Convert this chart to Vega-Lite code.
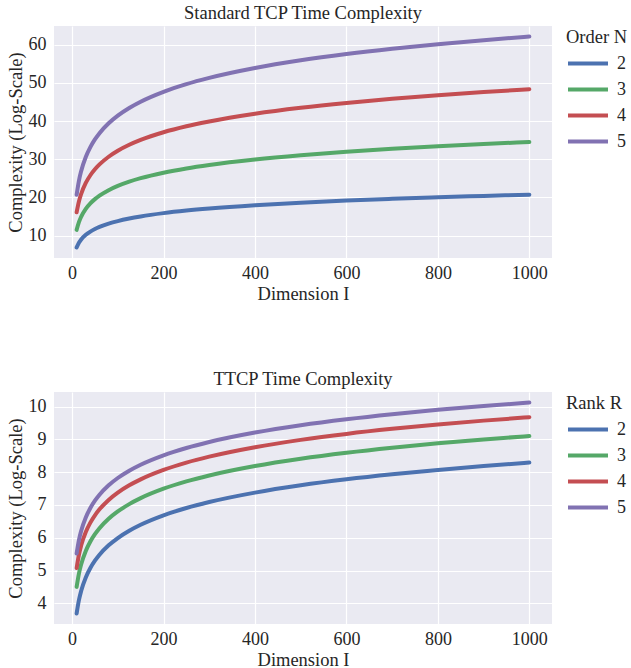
{
  "$schema": "https://vega.github.io/schema/vega-lite/v6.json",
  "padding": {"left": 6, "top": 3, "right": 0, "bottom": 0},
  "background": "white",
  "spacing": 66,
  "config": {
    "font": "Liberation Serif",
    "view": {"fill": "#EAEAF2", "stroke": null},
    "axis": {
      "domain": false, "ticks": false, "grid": true, "gridColor": "white", "gridWidth": 1.2,
      "labelFont": "Liberation Serif", "labelFontSize": 18, "labelColor": "#262626", "labelPadding": 8,
      "titleFont": "Liberation Serif", "titleFontSize": 18.5, "titleColor": "#262626", "titleFontWeight": "normal", "titlePadding": 3
    },
    "axisX": {"labelPadding": 6, "titlePadding": 2},
    "title": {"font": "Liberation Serif", "fontSize": 18.5, "fontWeight": "normal", "color": "#262626", "offset": 4},
    "legend": {
      "orient": "right", "offset": 12, "padding": 2,
      "titleFont": "Liberation Serif", "titleFontSize": 18.5, "titleFontWeight": "normal", "titleColor": "#262626", "titlePadding": 5,
      "labelFont": "Liberation Serif", "labelFontSize": 18, "labelColor": "#262626",
      "symbolType": "M-1,0H3", "symbolSize": 400, "symbolStrokeWidth": 4, "labelOffset": 27, "rowPadding": 5
    }
  },
  "datasets": {
    "tcp": [
      {"I":10,"y":6.908,"N":2},{"I":15,"y":8.124,"N":2},{"I":20,"y":8.987,"N":2},{"I":30,"y":10.204,"N":2},{"I":40,"y":11.067,"N":2},{"I":50,"y":11.736,"N":2},{"I":60,"y":12.283,"N":2},{"I":80,"y":13.146,"N":2},{"I":100,"y":13.816,"N":2},{"I":125,"y":14.485,"N":2},{"I":150,"y":15.032,"N":2},{"I":200,"y":15.895,"N":2},{"I":250,"y":16.564,"N":2},{"I":300,"y":17.111,"N":2},{"I":400,"y":17.974,"N":2},{"I":500,"y":18.644,"N":2},{"I":600,"y":19.191,"N":2},{"I":700,"y":19.653,"N":2},{"I":800,"y":20.054,"N":2},{"I":900,"y":20.407,"N":2},{"I":1000,"y":20.723,"N":2},
      {"I":10,"y":11.513,"N":3},{"I":15,"y":13.540,"N":3},{"I":20,"y":14.979,"N":3},{"I":30,"y":17.006,"N":3},{"I":40,"y":18.444,"N":3},{"I":50,"y":19.560,"N":3},{"I":60,"y":20.472,"N":3},{"I":80,"y":21.910,"N":3},{"I":100,"y":23.026,"N":3},{"I":125,"y":24.142,"N":3},{"I":150,"y":25.053,"N":3},{"I":200,"y":26.492,"N":3},{"I":250,"y":27.607,"N":3},{"I":300,"y":28.519,"N":3},{"I":400,"y":29.957,"N":3},{"I":500,"y":31.073,"N":3},{"I":600,"y":31.985,"N":3},{"I":700,"y":32.755,"N":3},{"I":800,"y":33.423,"N":3},{"I":900,"y":34.012,"N":3},{"I":1000,"y":34.539,"N":3},
      {"I":10,"y":16.118,"N":4},{"I":15,"y":18.956,"N":4},{"I":20,"y":20.970,"N":4},{"I":30,"y":23.808,"N":4},{"I":40,"y":25.822,"N":4},{"I":50,"y":27.384,"N":4},{"I":60,"y":28.660,"N":4},{"I":80,"y":30.674,"N":4},{"I":100,"y":32.236,"N":4},{"I":125,"y":33.798,"N":4},{"I":150,"y":35.074,"N":4},{"I":200,"y":37.088,"N":4},{"I":250,"y":38.650,"N":4},{"I":300,"y":39.926,"N":4},{"I":400,"y":41.940,"N":4},{"I":500,"y":43.502,"N":4},{"I":600,"y":44.779,"N":4},{"I":700,"y":45.858,"N":4},{"I":800,"y":46.792,"N":4},{"I":900,"y":47.617,"N":4},{"I":1000,"y":48.354,"N":4},
      {"I":10,"y":20.723,"N":5},{"I":15,"y":24.372,"N":5},{"I":20,"y":26.962,"N":5},{"I":30,"y":30.611,"N":5},{"I":40,"y":33.200,"N":5},{"I":50,"y":35.208,"N":5},{"I":60,"y":36.849,"N":5},{"I":80,"y":39.438,"N":5},{"I":100,"y":41.447,"N":5},{"I":125,"y":43.455,"N":5},{"I":150,"y":45.096,"N":5},{"I":200,"y":47.685,"N":5},{"I":250,"y":49.693,"N":5},{"I":300,"y":51.334,"N":5},{"I":400,"y":53.923,"N":5},{"I":500,"y":55.931,"N":5},{"I":600,"y":57.572,"N":5},{"I":700,"y":58.960,"N":5},{"I":800,"y":60.162,"N":5},{"I":900,"y":61.222,"N":5},{"I":1000,"y":62.170,"N":5}
    ],
    "ttcp": [
      {"I":10,"y":3.689,"R":2},{"I":15,"y":4.094,"R":2},{"I":20,"y":4.382,"R":2},{"I":30,"y":4.787,"R":2},{"I":40,"y":5.075,"R":2},{"I":50,"y":5.298,"R":2},{"I":60,"y":5.481,"R":2},{"I":80,"y":5.768,"R":2},{"I":100,"y":5.991,"R":2},{"I":125,"y":6.215,"R":2},{"I":150,"y":6.397,"R":2},{"I":200,"y":6.685,"R":2},{"I":250,"y":6.908,"R":2},{"I":300,"y":7.090,"R":2},{"I":400,"y":7.378,"R":2},{"I":500,"y":7.601,"R":2},{"I":600,"y":7.783,"R":2},{"I":700,"y":7.937,"R":2},{"I":800,"y":8.071,"R":2},{"I":900,"y":8.189,"R":2},{"I":1000,"y":8.294,"R":2},
      {"I":10,"y":4.500,"R":3},{"I":15,"y":4.905,"R":3},{"I":20,"y":5.193,"R":3},{"I":30,"y":5.598,"R":3},{"I":40,"y":5.886,"R":3},{"I":50,"y":6.109,"R":3},{"I":60,"y":6.292,"R":3},{"I":80,"y":6.579,"R":3},{"I":100,"y":6.802,"R":3},{"I":125,"y":7.026,"R":3},{"I":150,"y":7.208,"R":3},{"I":200,"y":7.496,"R":3},{"I":250,"y":7.719,"R":3},{"I":300,"y":7.901,"R":3},{"I":400,"y":8.189,"R":3},{"I":500,"y":8.412,"R":3},{"I":600,"y":8.594,"R":3},{"I":700,"y":8.748,"R":3},{"I":800,"y":8.882,"R":3},{"I":900,"y":9.000,"R":3},{"I":1000,"y":9.105,"R":3},
      {"I":10,"y":5.075,"R":4},{"I":15,"y":5.481,"R":4},{"I":20,"y":5.768,"R":4},{"I":30,"y":6.174,"R":4},{"I":40,"y":6.461,"R":4},{"I":50,"y":6.685,"R":4},{"I":60,"y":6.867,"R":4},{"I":80,"y":7.155,"R":4},{"I":100,"y":7.378,"R":4},{"I":125,"y":7.601,"R":4},{"I":150,"y":7.783,"R":4},{"I":200,"y":8.071,"R":4},{"I":250,"y":8.294,"R":4},{"I":300,"y":8.476,"R":4},{"I":400,"y":8.764,"R":4},{"I":500,"y":8.987,"R":4},{"I":600,"y":9.170,"R":4},{"I":700,"y":9.324,"R":4},{"I":800,"y":9.457,"R":4},{"I":900,"y":9.575,"R":4},{"I":1000,"y":9.680,"R":4},
      {"I":10,"y":5.521,"R":5},{"I":15,"y":5.927,"R":5},{"I":20,"y":6.215,"R":5},{"I":30,"y":6.620,"R":5},{"I":40,"y":6.908,"R":5},{"I":50,"y":7.131,"R":5},{"I":60,"y":7.313,"R":5},{"I":80,"y":7.601,"R":5},{"I":100,"y":7.824,"R":5},{"I":125,"y":8.047,"R":5},{"I":150,"y":8.230,"R":5},{"I":200,"y":8.517,"R":5},{"I":250,"y":8.740,"R":5},{"I":300,"y":8.923,"R":5},{"I":400,"y":9.210,"R":5},{"I":500,"y":9.434,"R":5},{"I":600,"y":9.616,"R":5},{"I":700,"y":9.770,"R":5},{"I":800,"y":9.904,"R":5},{"I":900,"y":10.021,"R":5},{"I":1000,"y":10.127,"R":5}
    ]
  },
  "resolve": {"scale": {"color": "independent", "x": "independent", "y": "independent"}, "legend": {"color": "independent"}},
  "vconcat": [
    {
      "title": "Standard TCP Time Complexity",
      "width": 498, "height": 232,
      "data": {"name": "tcp"},
      "mark": {"type": "line", "strokeWidth": 4, "strokeCap": "round", "interpolate": "monotone"},
      "encoding": {
        "x": {"field": "I", "type": "quantitative", "title": "Dimension I", "scale": {"domain": [-39.5, 1049.5], "nice": false, "zero": false}, "axis": {"values": [0, 200, 400, 600, 800, 1000], "format": "d"}},
        "y": {"field": "y", "type": "quantitative", "title": "Complexity (Log-Scale)", "scale": {"domain": [4.14, 64.93], "nice": false, "zero": false}, "axis": {"values": [10, 20, 30, 40, 50, 60], "format": "d"}},
        "color": {"field": "N", "type": "nominal", "title": "Order N", "scale": {"domain": [2, 3, 4, 5], "range": ["#4C72B0", "#55A868", "#C44E52", "#8172B2"]}}
      }
    },
    {
      "title": "TTCP Time Complexity",
      "width": 498, "height": 232,
      "data": {"name": "ttcp"},
      "mark": {"type": "line", "strokeWidth": 4, "strokeCap": "round", "interpolate": "monotone"},
      "encoding": {
        "x": {"field": "I", "type": "quantitative", "title": "Dimension I", "scale": {"domain": [-39.5, 1049.5], "nice": false, "zero": false}, "axis": {"values": [0, 200, 400, 600, 800, 1000], "format": "d"}},
        "y": {"field": "y", "type": "quantitative", "title": "Complexity (Log-Scale)", "scale": {"domain": [3.367, 10.449], "nice": false, "zero": false}, "axis": {"values": [4, 5, 6, 7, 8, 9, 10], "format": "d"}},
        "color": {"field": "R", "type": "nominal", "title": "Rank R", "scale": {"domain": [2, 3, 4, 5], "range": ["#4C72B0", "#55A868", "#C44E52", "#8172B2"]}}
      }
    }
  ]
}
